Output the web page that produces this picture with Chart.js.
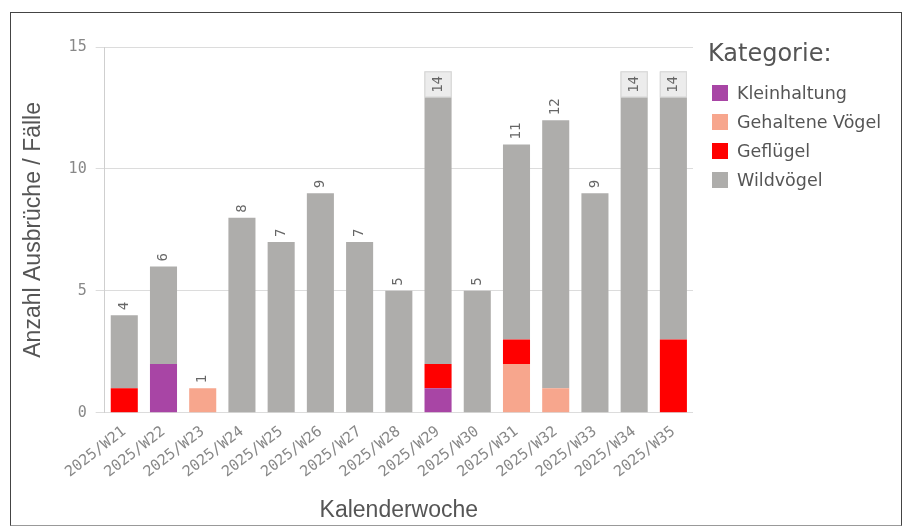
<!DOCTYPE html>
<html lang="de">
<head>
<meta charset="utf-8">
<script src="https://cdn.jsdelivr.net/npm/chart.js@4"></script>
<style>
    html, body { margin: 0; padding: 0; background: #fff; }
    #wrap { position: relative; width: 907px; height: 528px; }
    #rahmen { position: absolute; left: 10px; top: 12px; width: 890px; height: 512px; border: 1.5px solid #444; border-bottom-color: #999; pointer-events: none; }
    #grafik { position: absolute; left: 0; top: 0; }
    #legende { position: absolute; left: 708px; top: 39px; font-family: "DejaVu Sans", sans-serif; color: #555; }
    #legende .titel { font-size: 24px; margin-bottom: 11px; }
    #legende .eintrag { display: flex; align-items: center; height: 29px; font-size: 17.5px; }
    #legende .box { width: 16px; height: 16px; margin-left: 4px; margin-right: 9px; }
</style>
</head>
<body>
<div id="wrap">
    <canvas id="grafik" width="907" height="528"></canvas>
    <div id="legende"></div>
    <div id="rahmen"></div>
</div>
<script>
const kategorien = ["2025/W21", "2025/W22", "2025/W23", "2025/W24", "2025/W25", "2025/W26", "2025/W27", "2025/W28",
    "2025/W29", "2025/W30", "2025/W31", "2025/W32", "2025/W33", "2025/W34", "2025/W35"];
const kleinhaltung    = [0, 2, 0, 0, 0, 0, 0, 0, 1, 0, 0, 0, 0, 0, 0];
const gehalteneVoegel = [0, 0, 1, 0, 0, 0, 0, 0, 0, 0, 2, 1, 0, 0, 0];
const gefluegel       = [1, 0, 0, 0, 0, 0, 0, 0, 1, 0, 1, 0, 0, 0, 3];
const wildvoegel      = [3, 4, 0, 8, 7, 9, 7, 5, 12, 5, 8, 11, 9, 14, 11];
const yTicks = [0, 5, 10, 15];

const serien = [
    { label: "Kleinhaltung", data: kleinhaltung, farbe: "#a845a5" },
    { label: "Gehaltene Vögel", data: gehalteneVoegel, farbe: "#f7a68d" },
    { label: "Geflügel", data: gefluegel, farbe: "#ff0000" },
    { label: "Wildvögel", data: wildvoegel, farbe: "#aeadab" },
];

const mono = '"DejaVu Sans Mono", monospace';

// Summen über den Stapeln, oben am Rand in einer kleinen Box
const summenLabels = {
    id: "summenLabels",
    afterDatasetsDraw(chart) {
        const ctx = chart.ctx;
        const area = chart.chartArea;
        const y = chart.scales.y;
        const meta = chart.getDatasetMeta(serien.length - 1);
        ctx.save();
        ctx.font = "14px " + mono;
        ctx.fillStyle = "#666";
        kategorien.forEach((k, i) => {
            const summe = serien.reduce((s, d) => s + d.data[i], 0);
            const bar = meta.data[i];
            const oben = y.getPixelForValue(summe);
            const text = String(summe);
            const tw = ctx.measureText(text).width;
            if (oben - 5 - tw < area.top + 12) {
                const h = 26;
                ctx.fillStyle = "#ececec";
                ctx.fillRect(bar.x - bar.width / 2, oben, bar.width, h);
                ctx.strokeStyle = "#d8d8d8";
                ctx.lineWidth = 1;
                ctx.strokeRect(bar.x - bar.width / 2 + 0.5, oben + 0.5, bar.width - 1, h - 1);
                ctx.fillStyle = "#666";
                ctx.save();
                ctx.translate(bar.x, oben + h / 2);
                ctx.rotate(-Math.PI / 2);
                ctx.textAlign = "center";
                ctx.textBaseline = "middle";
                ctx.fillText(text, 0, 0);
                ctx.restore();
            } else {
                ctx.save();
                ctx.translate(bar.x, oben - 5);
                ctx.rotate(-Math.PI / 2);
                ctx.textAlign = "left";
                ctx.textBaseline = "middle";
                ctx.fillText(text, 0, 0);
                ctx.restore();
            }
        });
        ctx.restore();
    },
};

new Chart(document.getElementById("grafik"), {
    type: "bar",
    data: {
        labels: kategorien,
        datasets: serien.map((s) => ({
            label: s.label,
            data: s.data,
            backgroundColor: s.farbe,
            categoryPercentage: 1,
            barPercentage: 0.69,
        })),
    },
    options: {
        responsive: false,
        animation: false,
        layout: { padding: { left: 16, right: 214, top: 47, bottom: 0 } },
        plugins: { legend: { display: false }, tooltip: { enabled: false } },
        scales: {
            x: {
                stacked: true,
                grid: { display: false },
                border: { display: false },
                ticks: { color: "#888", font: { family: mono, size: 15 }, minRotation: 38, maxRotation: 38, padding: 2 },
                title: { display: true, text: "Kalenderwoche", color: "#555", font: { family: '"Liberation Sans", Arial, sans-serif', size: 23 }, padding: { top: 13 } },
            },
            y: {
                stacked: true,
                min: 0,
                max: 15,
                afterBuildTicks: (ax) => { ax.ticks = yTicks.map((v) => ({ value: v })); },
                grid: { color: "#dcdcdc", tickLength: 9 },
                border: { color: "#cfcfcf" },
                ticks: { color: "#888", font: { family: mono, size: 15 }, padding: 9 },
                title: { display: true, text: "Anzahl Ausbrüche / Fälle", color: "#555", font: { family: '"Liberation Sans", Arial, sans-serif', size: 23 }, padding: { bottom: 12 } },
            },
        },
    },
    plugins: [summenLabels],
});

document.getElementById("legende").innerHTML =
    '<div class="titel">Kategorie:</div>' +
    serien.map((s) => `<div class="eintrag"><span class="box" style="background:${s.farbe}"></span>${s.label}</div>`).join("");
</script>
</body>
</html>
